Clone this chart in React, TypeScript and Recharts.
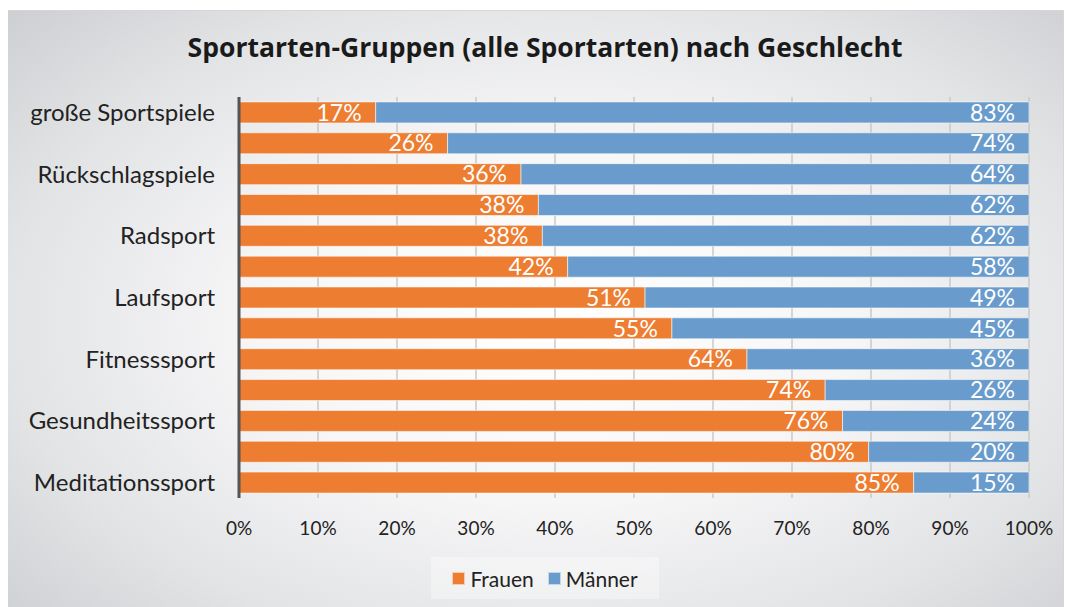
import React from "react";
import { BarChart, Bar, XAxis, YAxis, CartesianGrid, Legend, LabelList } from "recharts";

const categories = [
  "große Sportspiele",
  "",
  "Rückschlagspiele",
  "",
  "Radsport",
  "",
  "Laufsport",
  "",
  "Fitnesssport",
  "",
  "Gesundheitssport",
  "",
  "Meditationssport",
];
const frauen = [17.3, 26.4, 35.7, 37.9, 38.4, 41.6, 51.4, 54.8, 64.3, 74.2, 76.4, 79.7, 85.4];
const maenner = [82.7, 73.6, 64.3, 62.1, 61.6, 58.4, 48.6, 45.2, 35.7, 25.8, 23.6, 20.3, 14.6];
const xTicks = [0, 10, 20, 30, 40, 50, 60, 70, 80, 90, 100];

const data = categories.map((c, i) => ({ id: i, name: c, Frauen: frauen[i], Männer: maenner[i] }));

const FONT = "Lato, 'Open Sans', sans-serif";
const ORANGE = "#ED7D31";
const BLUE = "#699CCC";

const renderLegend = () => (
  <div
    style={{
      display: "flex",
      justifyContent: "center",
      alignItems: "center",
      gap: 14,
      height: 42,
      background: "rgba(255,255,255,0.35)",
      fontFamily: FONT,
      fontSize: 21,
      color: "#222",
    }}
  >
    {[
      ["Frauen", ORANGE],
      ["Männer", BLUE],
    ].map(([n, c]) => (
      <span key={n} style={{ display: "flex", alignItems: "center", gap: 5 }}>
        <span style={{ width: 11, height: 11, background: c, border: "1px solid rgba(255,255,255,0.6)", display: "inline-block" }} />
        {n}
      </span>
    ))}
  </div>
);

export default function App() {
  return (
    <div
      style={{
        position: "relative",
        width: 1058,
        height: 599,
        marginLeft: -2,
        marginTop: 2,
        border: "1px solid #d6d6d6",
        boxSizing: "border-box",
        background: "radial-gradient(ellipse 70% 75% at 52% 52%, #ffffff 0%, #f6f6f7 40%, #e2e3e5 75%, #cfd0d3 100%)",
      }}
    >
      <div
        style={{
          position: "absolute",
          top: 18,
          left: 0,
          width: 1076,
          textAlign: "center",
          fontFamily: "'Open Sans', sans-serif",
          fontWeight: 700,
          fontSize: 26.5,
          color: "#1a1a1a",
        }}
      >
        Sportarten-Gruppen (alle Sportarten) nach Geschlecht
      </div>
      <BarChart
        width={1056}
        height={597}
        data={data}
        layout="vertical"
        margin={{ top: 86, right: 34, bottom: 70, left: 0 }}
        barCategoryGap="16%"
        style={{ position: "absolute", top: 0, left: 0 }}
      >
        <CartesianGrid horizontal={false} stroke="#c8c8c8" strokeWidth={1.5} />
        <XAxis
          type="number"
          domain={[0, 100]}
          ticks={xTicks}
          tickFormatter={(v) => `${v}%`}
          axisLine={false}
          tickLine={false}
          tickMargin={18}
          tick={{ fontFamily: FONT, fontSize: 19, fill: "#222" }}
          height={40}
        />
        <YAxis
          type="category"
          dataKey="id"
          tickFormatter={(i) => categories[i]}
          interval={0}
          width={232}
          axisLine={{ stroke: "#555", strokeWidth: 3 }}
          tickLine={false}
          tickMargin={18}
          tick={{ fontFamily: FONT, fontSize: 24, fill: "#222" }}
        />
        <Legend
          content={renderLegend}
          verticalAlign="middle"
          align="center"
          wrapperStyle={{ position: "absolute", left: 424, top: 546, width: 228, bottom: "auto" }}
        />
        <Bar dataKey="Frauen" stackId="a" fill={ORANGE} stroke="rgba(255,255,255,0.55)" strokeWidth={1} isAnimationActive={false}>
          <LabelList
            dataKey="Frauen"
            position="insideRight"
            offset={14}
            formatter={(v) => `${Math.round(Number(v))}%`}
            style={{ fontFamily: FONT, fontSize: 23, fill: "#fff" }}
          />
        </Bar>
        <Bar dataKey="Männer" stackId="a" fill={BLUE} stroke="rgba(255,255,255,0.55)" strokeWidth={1} isAnimationActive={false}>
          <LabelList
            dataKey="Männer"
            position="insideRight"
            offset={14}
            formatter={(v) => `${Math.round(Number(v))}%`}
            style={{ fontFamily: FONT, fontSize: 23, fill: "#fff" }}
          />
        </Bar>
      </BarChart>
    </div>
  );
}
